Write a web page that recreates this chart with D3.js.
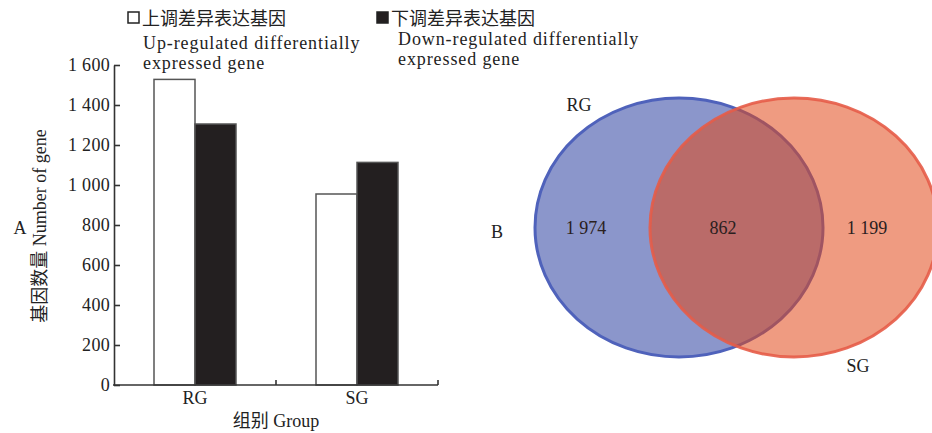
<!DOCTYPE html>
<html><head><meta charset="utf-8">
<script src="https://cdn.jsdelivr.net/npm/d3@7"></script>
<style>
body{margin:0;background:#fff;}
svg{display:block;font-family:"Liberation Serif","Noto Sans CJK SC",serif;}
</style></head>
<body><svg id="c" width="932" height="433"></svg>
<script>
// ---- data ----
const groups = ["RG", "SG"];
const seriesKeys = ["up", "down"];
const upValues = [1528, 955];
const downValues = [1305, 1113];
const yTicks = [0, 200, 400, 600, 800, 1000, 1200, 1400, 1600];
const legendZh = ["上调差异表达基因", "下调差异表达基因"];
const legendEn = [["Up-regulated differentially", "expressed gene"], ["Down-regulated differentially", "expressed gene"]];
const vennSets = ["RG", "SG"];
const vennCounts = [1974, 862, 1199]; // RG only, both, SG only

const svg = d3.select("#c");
const fmt = d3.formatLocale({decimal: ".", thousands: " ", grouping: [3], currency: ["", ""]}).format(",d");

// ---- bar chart ----
const x0 = d3.scaleBand().domain(groups).range([114, 438]);
const x1 = d3.scaleBand().domain(seriesKeys).range([0, 82]);
const y = d3.scaleLinear().domain([0, 1600]).range([385, 65]);

const fills = {up: "#ffffff", down: "#231f20"};
const strokes = {up: "#555555", down: "#555555"};

const g = svg.append("g");
groups.forEach((grp, i) => {
  const vals = {up: upValues[i], down: downValues[i]};
  const cx = x0(grp) + x0.bandwidth() / 2;
  seriesKeys.forEach(k => {
    g.append("rect")
      .attr("x", cx - 41 + x1(k))
      .attr("y", y(vals[k]))
      .attr("width", x1.bandwidth())
      .attr("height", y(0) - y(vals[k]))
      .attr("fill", fills[k])
      .attr("stroke", strokes[k])
      .attr("stroke-width", 1.5);
  });
});

// y axis
const yAxis = d3.axisLeft(y).tickValues(yTicks).tickSizeInner(-6).tickSizeOuter(0).tickPadding(4)
  .tickFormat(d => fmt(d));
const ya = svg.append("g").attr("transform", "translate(114,0)").call(yAxis);
ya.select(".domain").attr("stroke", "#333").attr("stroke-width", 1.6);
ya.selectAll(".tick line").attr("stroke", "#333").attr("stroke-width", 1.6);
ya.selectAll(".tick text").attr("font-size", 18).attr("fill", "#222")
  .attr("font-family", "Liberation Serif").attr("x", -4).attr("letter-spacing", 0.3);

// x axis
svg.append("line").attr("x1", 113).attr("x2", x0.range()[1]).attr("y1", y(0)).attr("y2", y(0))
  .attr("stroke", "#333").attr("stroke-width", 1.6);
groups.forEach(grp => {
  const xe = x0(grp) + x0.bandwidth();
  svg.append("line").attr("x1", xe).attr("x2", xe).attr("y1", y(0)).attr("y2", y(0) - 5)
    .attr("stroke", "#333").attr("stroke-width", 1.6);
  svg.append("text").attr("x", x0(grp) + x0.bandwidth() / 2).attr("y", 404)
    .attr("text-anchor", "middle").attr("font-size", 18).attr("fill", "#222").text(grp);
});
svg.append("text").attr("x", 276).attr("y", 427).attr("text-anchor", "middle")
  .attr("font-size", 18).attr("fill", "#222").text("组别 Group");

// y title
svg.append("text").attr("transform", "translate(46,226) rotate(-90)").attr("text-anchor", "middle")
  .attr("font-size", 18).attr("fill", "#222").text("基因数量 Number of gene");
svg.append("text").attr("x", 20).attr("y", 234).attr("text-anchor", "middle")
  .attr("font-size", 18).attr("fill", "#222").text("A");

// legend
const legX = [127, 376];
const enX = [143, 398];
const enY = [[49, 69], [45, 65]];
seriesKeys.forEach((k, i) => {
  svg.append("rect").attr("x", legX[i] + 1).attr("y", 12).attr("width", 11).attr("height", 11)
    .attr("fill", fills[k]).attr("stroke", "#222").attr("stroke-width", 1.5);
  svg.append("text").attr("x", legX[i] + 15).attr("y", 25).attr("font-size", 18).attr("fill", "#222")
    .attr("font-family", "Noto Sans CJK SC").text(legendZh[i]);
  legendEn[i].forEach((line, j) => {
    svg.append("text").attr("x", enX[i]).attr("y", enY[i][j]).attr("font-size", 18)
      .attr("fill", "#222").attr("letter-spacing", 0.9).text(line);
  });
});

// ---- venn ----
const vennLayout = {cy: 227.5, rx: 144, ry: 129.5, cx: [679, 794]};
const vg = svg.append("g");
vg.append("ellipse").attr("cx", vennLayout.cx[0]).attr("cy", vennLayout.cy)
  .attr("rx", vennLayout.rx).attr("ry", vennLayout.ry)
  .attr("fill", "#8b96cb").attr("stroke", "#4f62bb").attr("stroke-width", 3);
vg.append("ellipse").attr("cx", vennLayout.cx[1]).attr("cy", vennLayout.cy)
  .attr("rx", vennLayout.rx).attr("ry", vennLayout.ry)
  .attr("fill", "rgb(225,72,25)").attr("fill-opacity", 0.55).attr("stroke", "none");
vg.append("ellipse").attr("cx", vennLayout.cx[1]).attr("cy", vennLayout.cy)
  .attr("rx", vennLayout.rx).attr("ry", vennLayout.ry)
  .attr("fill", "none").attr("stroke", "#e65c48").attr("stroke-width", 3).attr("stroke-opacity", 0.9);

const countX = [586, 723, 867];
vennCounts.forEach((v, i) => {
  vg.append("text").attr("x", countX[i]).attr("y", 234).attr("text-anchor", "middle")
    .attr("font-size", 18).attr("fill", "#2a2020").text(fmt(v));
});
vg.append("text").attr("x", 579).attr("y", 111).attr("text-anchor", "middle").attr("font-size", 18)
  .attr("fill", "#222").text(vennSets[0]);
vg.append("text").attr("x", 858).attr("y", 372).attr("text-anchor", "middle").attr("font-size", 18)
  .attr("fill", "#222").text(vennSets[1]);
vg.append("text").attr("x", 497).attr("y", 238).attr("text-anchor", "middle").attr("font-size", 18)
  .attr("fill", "#222").text("B");
</script></body></html>
